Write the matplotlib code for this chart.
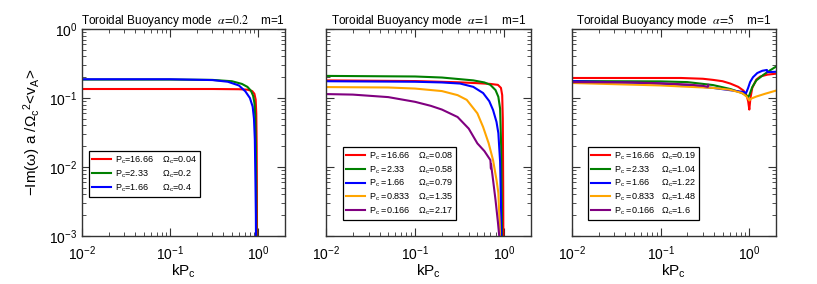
import matplotlib
matplotlib.use('Agg')
import matplotlib.pyplot as plt
from matplotlib.ticker import LogLocator, NullFormatter

plt.rcParams['font.family'] = ['Liberation Sans', 'DejaVu Sans']
plt.rcParams['mathtext.fontset'] = 'custom'
plt.rcParams['mathtext.rm'] = 'Liberation Sans'
plt.rcParams['mathtext.it'] = 'Liberation Sans'
plt.rcParams['mathtext.bf'] = 'Liberation Sans:bold'

# ---- data (k*Pc, -Im(w) normalised) ----
titles = [r'Toroidal Buoyancy mode  $\alpha\!=\!0.2$    m=1',
          r'Toroidal Buoyancy mode  $\alpha\!=\!1$    m=1',
          r'Toroidal Buoyancy mode  $\alpha\!=\!5$    m=1']

colors = ['red', 'green', 'blue', 'orange', 'purple']

# panel 1, alpha = 0.2
a1_labels = ['P$_c$=16.66    Ω$_c$=0.04',
             'P$_c$=2.33      Ω$_c$=0.2',
             'P$_c$=1.66      Ω$_c$=0.4']
a1_red_k = [0.01, 0.1, 0.3, 0.6, 0.75, 0.85, 0.9, 0.93, 0.945, 0.955, 0.96, 0.965]
a1_red_v = [0.135, 0.135, 0.135, 0.134, 0.132, 0.126, 0.115, 0.095, 0.06, 0.02, 0.005, 0.0005]
a1_green_k = [0.01, 0.1, 0.3, 0.5, 0.65, 0.75, 0.82, 0.87, 0.9, 0.92, 0.935, 0.945, 0.95]
a1_green_v = [0.185, 0.185, 0.183, 0.175, 0.16, 0.145, 0.128, 0.108, 0.085, 0.055, 0.02, 0.004, 0.0005]
a1_blue_k = [0.01, 0.1, 0.3, 0.45, 0.6, 0.71, 0.8, 0.86, 0.89, 0.91, 0.925, 0.935, 0.94]
a1_blue_v = [0.187, 0.187, 0.182, 0.172, 0.152, 0.125, 0.1, 0.075, 0.05, 0.025, 0.006, 0.002, 0.0005]

# panel 2, alpha = 1
a2_labels = ['P$_c$ =16.66    Ω$_c$=0.08',
             'P$_c$ =2.33      Ω$_c$=0.58',
             'P$_c$ =1.66      Ω$_c$=0.79',
             'P$_c$ =0.833    Ω$_c$=1.35',
             'P$_c$ =0.166    Ω$_c$=2.17']
a2_red_k = [0.01, 0.1, 0.3, 0.5, 0.7, 0.85, 0.92, 0.95, 0.965, 0.975, 0.98]
a2_red_v = [0.18, 0.176, 0.169, 0.164, 0.16, 0.155, 0.14, 0.11, 0.05, 0.005, 0.0005]
a2_green_k = [0.01, 0.1, 0.2, 0.45, 0.6, 0.7, 0.8, 0.86, 0.9, 0.925, 0.94, 0.95]
a2_green_v = [0.209, 0.205, 0.198, 0.18, 0.168, 0.155, 0.13, 0.104, 0.07, 0.02, 0.003, 0.0005]
a2_blue_k = [0.01, 0.1, 0.2, 0.32, 0.45, 0.58, 0.68, 0.75, 0.82, 0.86, 0.9, 0.92, 0.935]
a2_blue_v = [0.175, 0.172, 0.168, 0.162, 0.145, 0.118, 0.09, 0.067, 0.045, 0.031, 0.012, 0.003, 0.0005]
a2_orange_k = [0.01, 0.05, 0.1, 0.2, 0.3, 0.38, 0.5, 0.58, 0.67, 0.75, 0.82, 0.86, 0.89, 0.91]
a2_orange_v = [0.144, 0.142, 0.137, 0.126, 0.11, 0.094, 0.06, 0.038, 0.022, 0.0126, 0.0065, 0.0042, 0.0015, 0.0005]
a2_purple_k = [0.01, 0.02, 0.05, 0.1, 0.15, 0.2, 0.3, 0.4, 0.5, 0.6, 0.7, 0.71, 0.712, 0.75, 0.8, 0.85, 0.88, 0.9]
a2_purple_v = [0.114, 0.112, 0.103, 0.088, 0.077, 0.068, 0.053, 0.036, 0.022, 0.017, 0.0126, 0.0095, 0.011,
               0.0065, 0.0033, 0.0016, 0.001, 0.0005]

# panel 3, alpha = 5
a3_labels = ['P$_c$ =16.66   Ω$_c$=0.19',
             'P$_c$ =2.33     Ω$_c$=1.04',
             'P$_c$ =1.66     Ω$_c$=1.22',
             'P$_c$ =0.833   Ω$_c$=1.48',
             'P$_c$ =0.166   Ω$_c$=1.6']
a3_red_k = [0.01, 0.05, 0.17, 0.3, 0.39, 0.5, 0.61, 0.75, 0.86, 0.93, 0.97, 1.0, 1.03, 1.08, 1.2, 1.33, 1.6, 2.0]
a3_red_v = [0.195, 0.195, 0.195, 0.19, 0.183, 0.175, 0.162, 0.145, 0.128, 0.11, 0.09, 0.068, 0.1, 0.14,
            0.185, 0.205, 0.218, 0.225]
a3_green_k = [0.01, 0.1, 0.2, 0.39, 0.61, 0.8, 0.9, 0.97, 1.0, 1.08, 1.2, 1.43, 1.7, 2.0]
a3_green_v = [0.176, 0.174, 0.17, 0.154, 0.135, 0.12, 0.112, 0.103, 0.11, 0.144, 0.18, 0.215, 0.25, 0.285]
a3_blue_k = [0.01, 0.1, 0.17, 0.39, 0.6, 0.86, 0.92, 0.97, 1.02, 1.1, 1.23, 1.4, 1.58, 1.6, 2.0]
a3_blue_v = [0.176, 0.162, 0.155, 0.14, 0.13, 0.122, 0.118, 0.14, 0.17, 0.2, 0.23, 0.248, 0.255, 0.237, 0.24]
a3_orange_k = [0.01, 0.1, 0.17, 0.39, 0.6, 0.83, 0.93, 1.0, 1.05, 1.2, 1.5, 2.0]
a3_orange_v = [0.165, 0.152, 0.147, 0.14, 0.132, 0.118, 0.105, 0.092, 0.098, 0.105, 0.115, 0.128]
a3_purple_k = [0.01, 0.05, 0.1, 0.2, 0.3, 0.34, 0.345]
a3_purple_v = [0.17, 0.168, 0.163, 0.157, 0.15, 0.145, 0.155]

panels = [
    (a1_labels, [(a1_red_k, a1_red_v), (a1_green_k, a1_green_v), (a1_blue_k, a1_blue_v)]),
    (a2_labels, [(a2_red_k, a2_red_v), (a2_green_k, a2_green_v), (a2_blue_k, a2_blue_v),
                 (a2_orange_k, a2_orange_v), (a2_purple_k, a2_purple_v)]),
    (a3_labels, [(a3_red_k, a3_red_v), (a3_green_k, a3_green_v), (a3_blue_k, a3_blue_v),
                 (a3_orange_k, a3_orange_v), (a3_purple_k, a3_purple_v)]),
]

W, H = 817, 284
fig = plt.figure(figsize=(W / 100, H / 100), dpi=100)
boxes = [(82, 203), (326, 205), (572, 204)]
legend_anchor = [(0.034, 0.19), (0.083, 0.077), (0.078, 0.077)]

for i, (labels, series) in enumerate(panels):
    x0, w = boxes[i]
    ax = fig.add_axes([x0 / W, 1 - 236 / H, w / W, 207 / H])
    for j, (k, v) in enumerate(series):
        ax.plot(k, v, color=colors[j], lw=1.5, label=labels[j])
    ax.set_xscale('log')
    ax.set_yscale('log')
    ax.set_xlim(0.01, 2.0)
    ax.set_ylim(1e-3, 1.0)
    ax.yaxis.set_major_locator(LogLocator(base=10, numticks=10))
    ax.yaxis.set_minor_locator(LogLocator(base=10, subs=range(2, 10), numticks=10))
    ax.yaxis.set_minor_formatter(NullFormatter())
    ax.xaxis.set_minor_formatter(NullFormatter())
    ax.tick_params(which='both', direction='in', top=True, right=True, labelsize=10, colors='#333333',
                   labelcolor='black')
    ax.tick_params(which='major', length=6, width=0.8)
    ax.tick_params(which='minor', length=3, width=0.6)
    ax.tick_params(axis='x', pad=6)
    for s in ax.spines.values():
        s.set_color('#333333')
        s.set_linewidth(1.0)
    if i > 0:
        ax.set_yticklabels([])
    ax.set_xlabel('kP$_c$', fontsize=11, labelpad=0)
    ax.set_title(titles[i], fontsize=8.5, pad=3, math_fontfamily='stix')
    leg = ax.legend(loc='lower left', bbox_to_anchor=legend_anchor[i], borderaxespad=0,
                    fontsize=6.5, fancybox=False, framealpha=1, edgecolor='black',
                    handlelength=2.1, labelspacing=0.25, borderpad=0.35, handletextpad=0.4)
    leg.get_frame().set_linewidth(0.9)
    if i == 0:
        ax.set_ylabel('−Im(ω) a /Ω$_c$$^2$<v$_A$>', fontsize=11, labelpad=4)

fig.savefig('out.png', dpi=100)
